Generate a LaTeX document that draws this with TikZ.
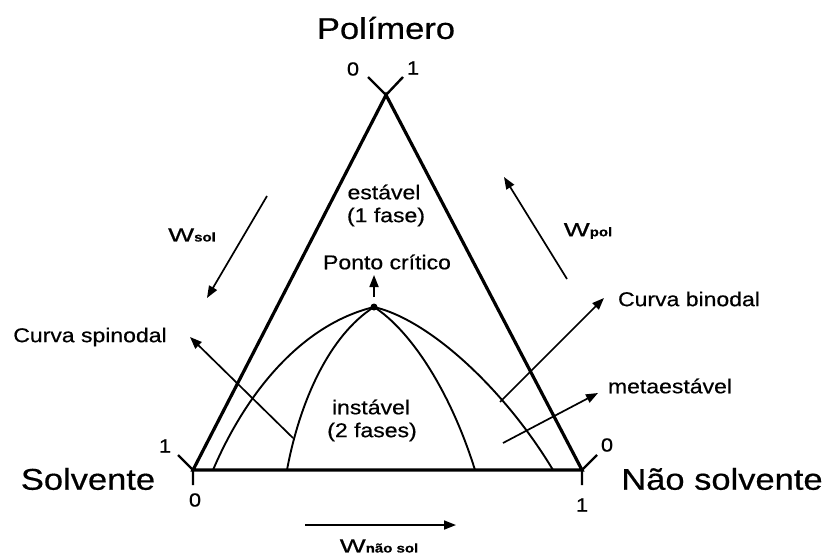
\documentclass[tikz,border=0pt]{standalone}
\usepackage{fontspec}
\setmainfont{Liberation Sans}[FakeBold=0.5]
\usetikzlibrary{arrows.meta}
\newcommand{\wide}[1]{\scalebox{1.15}[1]{#1}}
\newcommand{\Wlab}[1]{\scalebox{1.45}[1]{\fontsize{19}{19}\selectfont W}\scalebox{1.2}[1]{\fontsize{12.5}{13}\selectfont\bfseries #1}}
\begin{document}
\begin{tikzpicture}[x=1pt,y=-1pt,
  big/.style={inner sep=0pt,font=\fontsize{30}{32}\selectfont},
  small/.style={inner sep=0pt,font=\fontsize{20}{22}\selectfont},
  num/.style={inner sep=0pt,font=\fontsize{19}{20}\selectfont},
  side/.style={line width=3.2pt,line join=miter},
  curv/.style={line width=1.9pt},
  arr/.style={line width=1.7pt,-{Triangle[length=12pt,width=9pt]}},
  tickline/.style={line width=2.4pt}]
\useasboundingbox (0,0) rectangle (826,559);
\fill[white] (0,0) rectangle (826,559);

% triangle
\coordinate (A) at (386,95);
\coordinate (L) at (193,470);
\coordinate (R) at (582,470);
\draw[side] (L) -- (A) -- (R) -- cycle;

% ticks
\coordinate (Ta1) at (368,77);
\coordinate (Ta2) at (403,77);
\coordinate (Tl1) at (178,455);
\coordinate (Tl2) at (193,485);
\coordinate (Tr1) at (597,455);
\coordinate (Tr2) at (582,485);
\draw[tickline] (A) -- (Ta1) (A) -- (Ta2);
\draw[tickline] (L) -- (Tl1) (L) -- (Tl2);
\draw[tickline] (R) -- (Tr1) (R) -- (Tr2);

% numbers
\node[num] (na0) at (353,69) {\wide{0}};
\node[num] (na1) at (413,68) {\wide{1}};
\node[num] (nl1) at (165,446) {\wide{1}};
\node[num] (nl0) at (195,500) {\wide{0}};
\node[num] (nr0) at (607,445) {\wide{0}};
\node[num] (nr1) at (582,505) {\wide{1}};

% vertex labels
\node[big] (pol) at (386,28) {\wide{Polímero}};
\node[big] (solv) at (88,479) {\wide{Solvente}};
\node[big] (nsolv) at (722,479) {\wide{Não solvente}};

% curves
\coordinate (P) at (374,307);
\coordinate (b1) at (213,470);
\coordinate (b2) at (553,470);
\coordinate (s1) at (287,470);
\coordinate (s2) at (475,470);
\draw[curv] (b1) .. controls (245,395) and (300,325) .. (P)
               .. controls (430,320) and (505,390) .. (b2);
\draw[curv] (s1) .. controls (300,400) and (330,335) .. (P)
               .. controls (410,330) and (450,390) .. (s2);
\fill (P) circle (3.5pt);

% region labels
\node[small] (est) at (384,192) {\wide{estável}};
\node[small] (est2) at (386,217) {\wide{(1 fase)}};
\node[small] (pc) at (387,262) {\wide{Ponto crítico}};
\node[small] (inst) at (371,407) {\wide{instável}};
\node[small] (inst2) at (372,432) {\wide{(2 fases)}};

\coordinate (pcs) at (374,297);
\coordinate (pce) at (374,275);
\draw[arr] (pcs) -- (pce);

% curve labels
\node[small] (spin) at (90,337) {\wide{Curva spinodal}};
\node[small] (bino) at (689,299) {\wide{Curva binodal}};
\node[small] (meta) at (670,386) {\wide{metaestável}};

\coordinate (sps) at (293,438);
\coordinate (spe) at (190,337);
\draw[arr] (sps) -- (spe);
\coordinate (bis) at (500,402);
\coordinate (bie) at (604,298);
\draw[arr] (bis) -- (bie);
\coordinate (mes) at (503,443);
\coordinate (mee) at (598,393);
\draw[arr] (mes) -- (mee);

% composition arrows
\node[inner sep=0pt] (wsol) at (192,235) {\Wlab{sol}};
\node[inner sep=0pt] (wpol) at (588,231) {\Wlab{pol}};
\node[inner sep=0pt] (wns) at (379,546) {\Wlab{não sol}};

\coordinate (wss) at (267,196);
\coordinate (wse) at (207,298);
\draw[arr] (wss) -- (wse);
\coordinate (wps) at (567,279);
\coordinate (wpe) at (504,177);
\draw[arr] (wps) -- (wpe);
\coordinate (wns1) at (305,525);
\coordinate (wns2) at (456,525);
\draw[arr] (wns1) -- (wns2);
\end{tikzpicture}
\end{document}
